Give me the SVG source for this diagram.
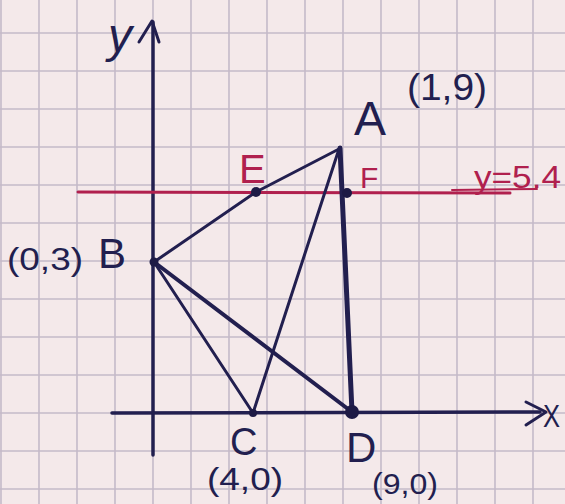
<svg xmlns="http://www.w3.org/2000/svg" width="565" height="504" viewBox="0 0 565 504">
  <style>
    .grid line { stroke: #c4bac9; stroke-width: 1.6; }
    .ink { stroke: #221f4f; fill: none; stroke-linecap: round; stroke-linejoin: round; }
    .red { stroke: #b0204e; fill: none; stroke-linecap: round; }
    .pt { fill: #1d1a45; }
    .lbl { font-family: "Liberation Sans", "DejaVu Sans", sans-serif; fill: #221f4f; }
    .rlbl { font-family: "Liberation Sans", "DejaVu Sans", sans-serif; fill: #b0204e; }
  </style>
  <rect width="565" height="504" fill="#f4e9ea"/>
  <g class="grid">
    <line x1="1" y1="0" x2="1" y2="504"/>
    <line x1="39" y1="0" x2="39" y2="504"/>
    <line x1="77" y1="0" x2="77" y2="504"/>
    <line x1="115" y1="0" x2="115" y2="504"/>
    <line x1="153" y1="0" x2="153" y2="504"/>
    <line x1="191" y1="0" x2="191" y2="504"/>
    <line x1="229" y1="0" x2="229" y2="504"/>
    <line x1="267" y1="0" x2="267" y2="504"/>
    <line x1="305" y1="0" x2="305" y2="504"/>
    <line x1="343" y1="0" x2="343" y2="504"/>
    <line x1="381" y1="0" x2="381" y2="504"/>
    <line x1="419" y1="0" x2="419" y2="504"/>
    <line x1="457" y1="0" x2="457" y2="504"/>
    <line x1="495" y1="0" x2="495" y2="504"/>
    <line x1="533" y1="0" x2="533" y2="504"/>
    <line x1="0" y1="33" x2="565" y2="33"/>
    <line x1="0" y1="71" x2="565" y2="71"/>
    <line x1="0" y1="109" x2="565" y2="109"/>
    <line x1="0" y1="147" x2="565" y2="147"/>
    <line x1="0" y1="185" x2="565" y2="185"/>
    <line x1="0" y1="223" x2="565" y2="223"/>
    <line x1="0" y1="261" x2="565" y2="261"/>
    <line x1="0" y1="299" x2="565" y2="299"/>
    <line x1="0" y1="337" x2="565" y2="337"/>
    <line x1="0" y1="375" x2="565" y2="375"/>
    <line x1="0" y1="413" x2="565" y2="413"/>
    <line x1="0" y1="451" x2="565" y2="451"/>
    <line x1="0" y1="489" x2="565" y2="489"/>
  </g>
  <g id="axes">
    <line class="ink" x1="153" y1="455" x2="153" y2="22" stroke-width="3.5"/>
    <polyline class="ink" points="139,42 152,21 159,42" stroke-width="3"/>
    <line class="ink" x1="112" y1="413" x2="540" y2="412" stroke-width="3.5"/>
    <polyline class="ink" points="526,402 546,412 526,425" stroke-width="3"/>
    <text class="lbl" x="108" y="52" font-size="48" font-style="italic">y</text>
    <text class="lbl" x="543" y="427" font-size="32" textLength="17" lengthAdjust="spacingAndGlyphs">X</text>
  </g>
  <g id="line-y54">
    <line class="red" x1="78" y1="192" x2="510" y2="193" stroke-width="3"/>
    <line class="red" x1="452" y1="190" x2="537" y2="189" stroke-width="2"/>
    <text class="rlbl" x="474" y="188" font-size="32" textLength="87" lengthAdjust="spacingAndGlyphs">y=5.4</text>
  </g>
  <g id="connectors">
    <polyline class="ink" points="154,262 256,192 339,149" stroke-width="3"/>
    <line class="ink" x1="339" y1="149" x2="253" y2="413" stroke-width="3"/>
    <line class="ink" x1="340" y1="148" x2="352" y2="412" stroke-width="5"/>
    <line class="ink" x1="154" y1="262" x2="253" y2="413" stroke-width="3"/>
    <line class="ink" x1="154" y1="262" x2="352" y2="412" stroke-width="4"/>
  </g>
  <g id="A">
    <text class="lbl" x="354" y="135" font-size="48">A</text>
    <text class="lbl" x="407" y="100" font-size="36" textLength="80" lengthAdjust="spacingAndGlyphs">(1,9)</text>
  </g>
  <g id="E">
    <circle class="pt" cx="256" cy="192" r="5"/>
    <text class="rlbl" x="239" y="183" font-size="40">E</text>
  </g>
  <g id="F">
    <circle class="pt" cx="347" cy="193" r="5"/>
    <text class="rlbl" x="360" y="188" font-size="30">F</text>
  </g>
  <g id="B">
    <circle class="pt" cx="154" cy="262" r="4.5"/>
    <text class="lbl" x="98" y="268" font-size="42">B</text>
    <text class="lbl" x="7" y="270" font-size="32" textLength="76" lengthAdjust="spacingAndGlyphs">(0,3)</text>
  </g>
  <g id="C">
    <circle class="pt" cx="253" cy="413" r="4"/>
    <text class="lbl" x="230" y="455" font-size="38">C</text>
    <text class="lbl" x="207" y="490" font-size="32" textLength="76" lengthAdjust="spacingAndGlyphs">(4,0)</text>
  </g>
  <g id="D">
    <circle class="pt" cx="352" cy="412" r="7"/>
    <text class="lbl" x="346" y="462" font-size="42">D</text>
    <text class="lbl" x="372" y="494" font-size="30" textLength="66" lengthAdjust="spacingAndGlyphs">(9,0)</text>
  </g>
</svg>
